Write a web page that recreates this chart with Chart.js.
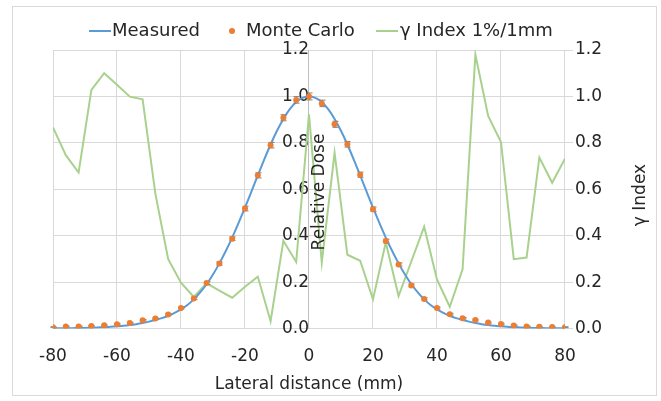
<!DOCTYPE html>
<html><head><meta charset="utf-8">
<script src="https://cdn.jsdelivr.net/npm/chart.js@4/dist/chart.umd.min.js"></script>
<style>html,body{margin:0;padding:0;background:#fff}#wrap{width:661px;height:401px}</style>
</head><body><div id="wrap"><canvas id="c" width="661" height="401"></canvas></div>
<script>
// ---- data ----
const measuredDistance = [-80,-78,-76,-74,-72,-70,-68,-66,-64,-62,-60,-58,-56,-54,-52,-50,-48,-46,-44,-42,-40,-38,-36,-34,-32,-30,-28,-26,-24,-22,-20,-18,-16,-14,-12,-10,-8,-6,-4,-2,0,2,4,6,8,10,12,14,16,18,20,22,24,26,28,30,32,34,36,38,40,42,44,46,48,50,52,54,56,58,60,62,64,66,68,70,72,74,76,78,80];
const measuredDose = [0.001,0.001,0.002,0.002,0.003,0.003,0.004,0.005,0.006,0.008,0.010,0.012,0.015,0.019,0.024,0.030,0.037,0.045,0.055,0.068,0.083,0.102,0.126,0.156,0.191,0.233,0.281,0.334,0.392,0.455,0.521,0.590,0.660,0.728,0.793,0.852,0.903,0.945,0.976,0.994,1.000,0.994,0.976,0.945,0.903,0.852,0.793,0.728,0.660,0.590,0.521,0.455,0.392,0.334,0.281,0.233,0.191,0.156,0.126,0.102,0.083,0.068,0.055,0.045,0.037,0.030,0.024,0.019,0.015,0.012,0.010,0.008,0.006,0.005,0.004,0.003,0.003,0.002,0.002,0.001,0.001];
const mcDistance = [-80,-76,-72,-68,-64,-60,-56,-52,-48,-44,-40,-36,-32,-28,-24,-20,-16,-12,-8,-4,0,4,8,12,16,20,24,28,32,36,40,44,48,52,56,60,64,68,72,76,80];
const mcDose = [0.006,0.009,0.009,0.011,0.014,0.019,0.024,0.036,0.043,0.061,0.089,0.130,0.196,0.280,0.387,0.517,0.660,0.790,0.908,0.985,1.000,0.970,0.880,0.794,0.663,0.514,0.377,0.276,0.186,0.128,0.089,0.062,0.045,0.037,0.026,0.020,0.013,0.009,0.008,0.007,0.006];
const mcError = [0.002,0.002,0.002,0.002,0.002,0.003,0.003,0.003,0.003,0.004,0.004,0.005,0.006,0.007,0.008,0.010,0.011,0.012,0.013,0.014,0.015,0.014,0.013,0.012,0.011,0.010,0.008,0.007,0.006,0.005,0.004,0.004,0.003,0.003,0.003,0.003,0.002,0.002,0.002,0.002,0.002];
const gammaDistance = mcDistance;
const gammaIndex = [0.867,0.747,0.672,1.028,1.100,1.050,0.999,0.988,0.580,0.299,0.198,0.136,0.195,0.164,0.133,0.180,0.224,0.032,0.378,0.287,0.923,0.284,0.757,0.318,0.292,0.126,0.371,0.140,0.290,0.439,0.212,0.094,0.255,1.180,0.916,0.804,0.299,0.306,0.737,0.628,0.732];
const xTicks = [-80,-60,-40,-20,0,20,40,60,80];
const yTicks = [0,0.2,0.4,0.6,0.8,1.0,1.2];
const seriesNames = ['Measured','Monte Carlo','\u03b3 Index 1%/1mm'];
const axisTitles = {x:'Lateral distance (mm)', y:'Relative Dose', y1:'\u03b3 Index'};

// ---- style ----
const FONT = "'DejaVu Sans', sans-serif";
const TXT = '#262626';
const BLUE = '#5b9bd5', ORANGE = '#ed7d31', GREEN = '#a9d18e', GRID = '#d9d9d9';

const pts = (xs, ys) => xs.map((x, i) => ({x, y: ys[i]}));

const errorBars = {
  id: 'errorBars',
  beforeDatasetDraw(chart, args) {
    if (args.index !== 1) return;
    const ctx = chart.ctx, sx = chart.scales.x, sy = chart.scales.y;
    ctx.save();
    ctx.strokeStyle = '#7f7f7f'; ctx.lineWidth = 1;
    mcDistance.forEach((d, i) => {
      const px = Math.round(sx.getPixelForValue(d)) + 0.5;
      const y1 = sy.getPixelForValue(mcDose[i] + mcError[i]);
      const y2 = sy.getPixelForValue(mcDose[i] - mcError[i]);
      ctx.beginPath();
      ctx.moveTo(px, y1); ctx.lineTo(px, y2);
      ctx.moveTo(px - 3, y1); ctx.lineTo(px + 3, y1);
      ctx.moveTo(px - 3, y2); ctx.lineTo(px + 3, y2);
      ctx.stroke();
    });
    ctx.restore();
  }
};

const decor = {
  id: 'decor',
  beforeDraw(chart) {
    const ctx = chart.ctx;
    ctx.save();
    ctx.fillStyle = '#fff'; ctx.fillRect(0, 0, chart.width, chart.height);
    ctx.strokeStyle = GRID; ctx.lineWidth = 1;
    ctx.strokeRect(12.5, 6.5, 644, 389);
    ctx.restore();
  },
  afterDraw(chart) {
    const ctx = chart.ctx;
    ctx.save();
    ctx.font = '18px ' + FONT; ctx.fillStyle = TXT; ctx.textBaseline = 'middle'; ctx.textAlign = 'left';
    const ly = 31;
    ctx.lineWidth = 2;
    ctx.strokeStyle = BLUE; ctx.beginPath(); ctx.moveTo(89, ly); ctx.lineTo(111, ly); ctx.stroke();
    ctx.fillText(seriesNames[0], 112, ly);
    ctx.fillStyle = ORANGE; ctx.beginPath(); ctx.arc(232, ly, 3, 0, Math.PI * 2); ctx.fill();
    ctx.fillStyle = TXT; ctx.fillText(seriesNames[1], 246, ly);
    ctx.strokeStyle = GREEN; ctx.beginPath(); ctx.moveTo(376, ly); ctx.lineTo(398, ly); ctx.stroke();
    ctx.fillText(seriesNames[2], 400, ly);
    // axis titles
    ctx.font = '17px ' + FONT;
    ctx.textAlign = 'center';
    const sx = chart.scales.x;
    ctx.fillText(axisTitles.x, (sx.left + sx.right) / 2, 385);
    const x0 = sx.getPixelForValue(0);
    ctx.save(); ctx.translate(x0 + 11, 192); ctx.rotate(-Math.PI / 2); ctx.fillText(axisTitles.y, 0, 0); ctx.restore();
    ctx.save(); ctx.translate(641, 195); ctx.rotate(-Math.PI / 2); ctx.fillText(axisTitles.y1, 0, 0); ctx.restore();
    ctx.restore();
  }
};

const tickFont = {family: FONT, size: 17};

new Chart(document.getElementById('c'), {
  type: 'line',
  data: {
    datasets: [
      {label: seriesNames[0], data: pts(measuredDistance, measuredDose), yAxisID: 'y', borderColor: BLUE, borderWidth: 2, pointRadius: 0, cubicInterpolationMode: 'monotone', order: 1},
      {label: seriesNames[1], data: pts(mcDistance, mcDose), yAxisID: 'y', showLine: false, pointRadius: 3, pointBackgroundColor: ORANGE, pointBorderColor: ORANGE, pointBorderWidth: 0, order: 0},
      {label: seriesNames[2], data: pts(gammaDistance, gammaIndex), yAxisID: 'y1', borderColor: GREEN, borderWidth: 2, pointRadius: 0, tension: 0, order: 2}
    ]
  },
  options: {
    responsive: false, animation: false, devicePixelRatio: 1,
    layout: {padding: {left: 53, top: 50, right: 57, bottom: 16}},
    plugins: {legend: {display: false}, tooltip: {enabled: false}},
    scales: {
      x: {type: 'linear', min: -80, max: 80,
          afterBuildTicks: s => { s.ticks = xTicks.map(v => ({value: v})); },
          ticks: {font: tickFont, color: TXT, padding: 18, maxRotation: 0, callback: v => String(v)},
          grid: {color: GRID, drawTicks: false}, border: {color: GRID},
          title: {display: false}},
      y: {position: {x: 0}, min: 0, max: 1.2, z: 1,
          afterBuildTicks: s => { s.ticks = yTicks.map(v => ({value: v})); },
          ticks: {font: tickFont, color: TXT, padding: 5, callback: v => Number(v).toFixed(1)},
          grid: {display: false, drawTicks: false}, border: {display: true, color: '#bfbfbf'}},
      y1: {position: 'right', min: 0, max: 1.2,
          afterBuildTicks: s => { s.ticks = yTicks.map(v => ({value: v})); },
          ticks: {font: tickFont, color: TXT, padding: 2, callback: v => Number(v).toFixed(1)},
          grid: {color: GRID, drawTicks: true, tickLength: 8}, border: {color: GRID}}
    }
  },
  plugins: [decor, errorBars]
});
</script></body></html>
